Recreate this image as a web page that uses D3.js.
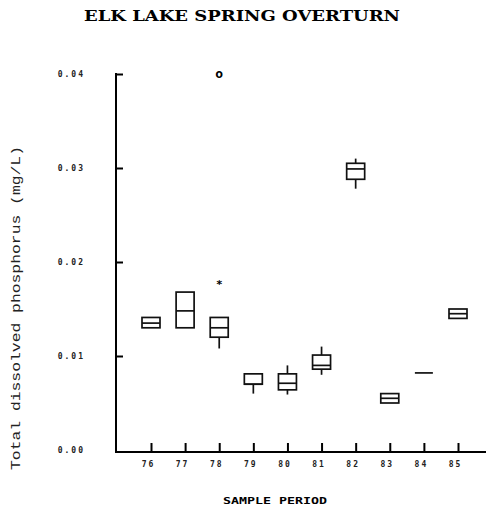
<!DOCTYPE html>
<html>
<head>
<meta charset="utf-8">
<script src="https://cdn.jsdelivr.net/npm/d3@7"></script>
<style>
  html, body { margin: 0; padding: 0; background: #fff; }
  svg { display: block; }
</style>
</head>
<body>
<svg id="chart" width="488" height="512"></svg>
<script>
// ---- data ----
const periods     = ["76", "77", "78", "79", "80", "81", "82", "83", "84", "85"];
const whiskerLow  = [0.0130, 0.0130, 0.0108, 0.0060, 0.0059, 0.0080, 0.0278, 0.0050, 0.0082, 0.0140];
const quart1      = [0.0130, 0.0130, 0.0120, 0.0070, 0.0064, 0.0086, 0.0288, 0.0050, 0.0082, 0.0140];
const medians     = [0.0135, 0.0148, 0.0130, 0.0070, 0.0071, 0.0090, 0.0299, 0.0055, 0.0082, 0.0145];
const quart3      = [0.0141, 0.0168, 0.0141, 0.0081, 0.0081, 0.0101, 0.0305, 0.0060, 0.0082, 0.0150];
const whiskerHigh = [0.0141, 0.0168, 0.0141, 0.0081, 0.0090, 0.0110, 0.0310, 0.0060, 0.0082, 0.0150];
const outlierPeriods = ["78", "78"];
const outlierValues  = [0.0179, 0.0400];
const outlierSymbols = ["*", "o"];
const yTicks = [0.00, 0.01, 0.02, 0.03, 0.04];
const titleText = "ELK LAKE SPRING OVERTURN";
const xTitle = "SAMPLE PERIOD";
const yTitle = "Total dissolved phosphorus (mg/L)";

const boxes = periods.map((p, i) => ({
  p, lo: whiskerLow[i], q1: quart1[i], med: medians[i], q3: quart3[i], hi: whiskerHigh[i]
}));

const svg = d3.select("#chart");
const x = d3.scalePoint().domain(periods).range([151, 458]);
const y = d3.scaleLinear().domain([0, 0.04]).range([450, 74]);
const axisX = 116, axisY = 452;
const boxW = 18;

// title
svg.append("text")
  .attr("x", 242).attr("y", 21)
  .attr("text-anchor", "middle")
  .attr("textLength", 316).attr("lengthAdjust", "spacingAndGlyphs")
  .style("font-family", "DejaVu Serif").style("font-weight", "bold").style("font-size", "14px")
  .text(titleText);

// y axis
const gy = svg.append("g").attr("transform", `translate(${axisX},0)`)
  .call(d3.axisLeft(y).tickValues(yTicks).tickSizeInner(-7).tickSizeOuter(0)
        .tickPadding(31).tickFormat(d3.format(".2f")));
gy.select(".domain").remove();
gy.selectAll(".tick line").attr("stroke", "#000").attr("stroke-width", 2);
gy.selectAll(".tick text")
  .style("font-family", "DejaVu Sans Mono").style("font-weight", "bold")
  .style("font-size", "8px").style("letter-spacing", "2px").attr("fill", "#222");
gy.selectAll(".tick").filter(d => d === 0).select("line").remove();

// x axis
const gx = svg.append("g").attr("transform", `translate(0,${axisY})`)
  .call(d3.axisBottom(x).tickSizeInner(-9).tickSizeOuter(0).tickPadding(9));
gx.select(".domain").remove();
gx.selectAll(".tick line").attr("stroke", "#000").attr("stroke-width", 2);
gx.selectAll(".tick text")
  .attr("dx", -3)
  .style("font-family", "DejaVu Sans Mono").style("font-weight", "bold")
  .style("font-size", "8px").style("letter-spacing", "2px").attr("fill", "#222");

// axis lines
svg.append("line").attr("x1", axisX).attr("x2", axisX)
  .attr("y1", y(0.04) - 1).attr("y2", axisY + 1)
  .attr("stroke", "#000").attr("stroke-width", 2);
svg.append("line").attr("x1", axisX).attr("x2", 486)
  .attr("y1", axisY).attr("y2", axisY)
  .attr("stroke", "#000").attr("stroke-width", 2);

// boxes
const g = svg.append("g").attr("stroke", "#111").attr("fill", "none").attr("stroke-width", 1.7);
const bg = g.selectAll("g.box").data(boxes).join("g").attr("class", "box");
bg.append("line")
  .attr("x1", d => x(d.p)).attr("x2", d => x(d.p))
  .attr("y1", d => y(d.hi)).attr("y2", d => y(d.q3));
bg.append("line")
  .attr("x1", d => x(d.p)).attr("x2", d => x(d.p))
  .attr("y1", d => y(d.q1)).attr("y2", d => y(d.lo));
bg.append("rect")
  .attr("x", d => x(d.p) - boxW / 2).attr("width", boxW)
  .attr("y", d => y(d.q3)).attr("height", d => Math.max(0, y(d.q1) - y(d.q3)));
bg.append("line")
  .attr("x1", d => x(d.p) - boxW / 2).attr("x2", d => x(d.p) + boxW / 2)
  .attr("y1", d => y(d.med)).attr("y2", d => y(d.med));

// outliers
svg.append("g").selectAll("text").data(outlierValues).join("text")
  .attr("x", (d, i) => x(outlierPeriods[i]))
  .attr("y", (d, i) => y(d) + (outlierSymbols[i] === "*" ? 6 : 4))
  .attr("text-anchor", "middle")
  .style("font-family", "DejaVu Sans Mono").style("font-weight", "bold")
  .style("font-size", (d, i) => outlierSymbols[i] === "*" ? "11px" : "13px")
  .text((d, i) => outlierSymbols[i]);

// axis titles
svg.append("text")
  .attr("x", 275).attr("y", 504)
  .attr("text-anchor", "middle")
  .attr("textLength", 104).attr("lengthAdjust", "spacingAndGlyphs")
  .style("font-family", "DejaVu Sans Mono").style("font-weight", "bold").style("font-size", "8px")
  .text(xTitle);

svg.append("text")
  .attr("transform", "translate(20,308) rotate(-90)")
  .attr("text-anchor", "middle")
  .attr("textLength", 324).attr("lengthAdjust", "spacingAndGlyphs")
  .attr("fill", "#222")
  .style("font-family", "Liberation Mono").style("font-size", "12px")
  .text(yTitle);
</script>
</body>
</html>
